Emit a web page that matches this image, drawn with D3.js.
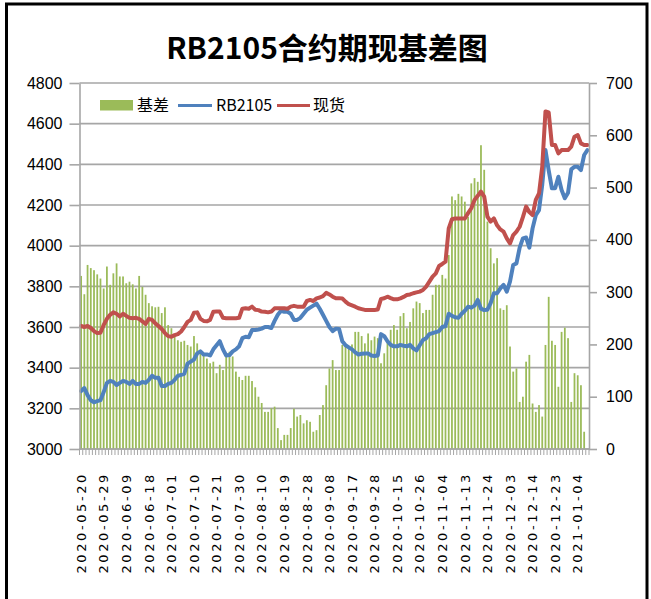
<!DOCTYPE html>
<html>
<head>
<meta charset="utf-8">
<script src="https://cdn.jsdelivr.net/npm/d3@7"></script>
<style>
  body { margin: 0; background: #fff; }
  svg { display: block; }
</style>
</head>
<body>
<div id="graph"></div>
<script>
// trading days shown on the x axis
const dates = [
  '2020-05-20','2020-05-21','2020-05-22','2020-05-25','2020-05-26','2020-05-27','2020-05-28','2020-05-29',
  '2020-06-01','2020-06-02','2020-06-03','2020-06-04','2020-06-05','2020-06-08','2020-06-09','2020-06-10',
  '2020-06-11','2020-06-12','2020-06-15','2020-06-16','2020-06-17','2020-06-18','2020-06-19','2020-06-22',
  '2020-06-23','2020-06-24','2020-06-29','2020-06-30','2020-07-01','2020-07-02','2020-07-03','2020-07-06',
  '2020-07-07','2020-07-08','2020-07-09','2020-07-10','2020-07-13','2020-07-14','2020-07-15','2020-07-16',
  '2020-07-17','2020-07-20','2020-07-21','2020-07-22','2020-07-23','2020-07-24','2020-07-27','2020-07-28',
  '2020-07-29','2020-07-30','2020-07-31','2020-08-03','2020-08-04','2020-08-05','2020-08-06','2020-08-07',
  '2020-08-10','2020-08-11','2020-08-12','2020-08-13','2020-08-14','2020-08-17','2020-08-18','2020-08-19',
  '2020-08-20','2020-08-21','2020-08-24','2020-08-25','2020-08-26','2020-08-27','2020-08-28','2020-08-31',
  '2020-09-01','2020-09-02','2020-09-03','2020-09-04','2020-09-07','2020-09-08','2020-09-09','2020-09-10',
  '2020-09-11','2020-09-14','2020-09-15','2020-09-16','2020-09-17','2020-09-18','2020-09-21','2020-09-22',
  '2020-09-23','2020-09-24','2020-09-25','2020-09-28','2020-09-29','2020-09-30','2020-10-09','2020-10-12',
  '2020-10-13','2020-10-14','2020-10-15','2020-10-16','2020-10-19','2020-10-20','2020-10-21','2020-10-22',
  '2020-10-23','2020-10-26','2020-10-27','2020-10-28','2020-10-29','2020-10-30','2020-11-02','2020-11-03',
  '2020-11-04','2020-11-05','2020-11-06','2020-11-09','2020-11-10','2020-11-11','2020-11-12','2020-11-13',
  '2020-11-16','2020-11-17','2020-11-18','2020-11-19','2020-11-20','2020-11-23','2020-11-24','2020-11-25',
  '2020-11-26','2020-11-27','2020-11-30','2020-12-01','2020-12-02','2020-12-03','2020-12-04','2020-12-07',
  '2020-12-08','2020-12-09','2020-12-10','2020-12-11','2020-12-14','2020-12-15','2020-12-16','2020-12-17',
  '2020-12-18','2020-12-21','2020-12-22','2020-12-23','2020-12-24','2020-12-25','2020-12-28','2020-12-29',
  '2020-12-30','2020-12-31','2021-01-04','2021-01-05','2021-01-06','2021-01-07'
]

// 基差 (right axis)
const basis = [
  331,296,352,346,342,334,326,307,349,314,
  336,355,330,330,317,320,315,307,331,310,
  295,279,273,271,272,260,271,237,231,215,
  208,205,207,199,196,216,202,189,180,173,
  164,167,145,161,151,177,186,177,148,138,
  132,140,140,130,118,100,88,71,71,78,
  81,40,17,27,27,40,77,62,65,49,
  55,52,33,36,65,84,122,154,170,151,
  151,199,199,193,200,224,224,216,202,221,
  208,215,212,164,183,205,228,237,228,254,
  260,231,243,269,282,279,260,266,266,295,
  314,314,333,326,371,483,476,488,483,473,
  444,508,518,511,581,534,435,384,355,365,
  269,266,275,196,148,154,90,100,167,180,
  87,71,84,62,199,291,207,199,119,224,
  232,212,90,145,141,122,33,null
]

// RB2105 futures (left axis)
const futures = [
  3285,3300,3265,3240,3230,3235,3240,3280,3325,3335,
  3330,3315,3325,3335,3330,3320,3335,3320,3320,3330,
  3325,3340,3360,3350,3350,3310,3310,3320,3325,3340,
  3360,3365,3370,3420,3430,3440,3470,3480,3465,3465,
  3460,3490,3510,3530,3490,3460,3462,3480,3490,3505,
  3545,3552,3550,3585,3585,3588,3592,3600,3600,3595,
  3630,3660,3680,3675,3675,3665,3635,3635,3645,3665,
  3685,3695,3705,3715,3690,3660,3630,3600,3580,3592,
  3590,3530,3510,3500,3490,3475,3465,3468,3470,3470,
  3460,3457,3460,3565,3555,3530,3512,3505,3505,3512,
  3508,3505,3512,3495,3485,3510,3536,3545,3565,3570,
  3575,3580,3600,3605,3665,3655,3648,3645,3665,3680,
  3700,3695,3705,3733,3690,3683,3685,3717,3766,3766,
  3790,3807,3774,3823,3905,3913,3990,4036,4040,3990,
  4085,4150,4175,4300,4470,4370,4282,4282,4339,4274,
  4233,4260,4375,4388,4388,4372,4446,4470
]

// 现货 spot (left axis)
const spot = [
  3605,3600,3605,3595,3580,3570,3572,3610,3640,3660,
  3672,3665,3652,3665,3655,3645,3643,3645,3640,3628,
  3615,3640,3635,3618,3605,3590,3570,3555,3552,3560,
  3565,3578,3600,3625,3635,3670,3672,3640,3630,3628,
  3635,3675,3676,3676,3645,3643,3643,3643,3643,3645,
  3690,3692,3690,3700,3685,3683,3676,3675,3672,3676,
  3692,3692,3692,3692,3690,3700,3704,3700,3700,3700,
  3728,3733,3728,3741,3745,3752,3768,3760,3749,3741,
  3742,3740,3725,3712,3706,3700,3692,3688,3684,3684,
  3684,3684,3686,3738,3741,3749,3742,3736,3736,3741,
  3748,3757,3760,3766,3770,3774,3782,3799,3823,3848,
  3864,3900,3910,3921,4085,4130,4134,4134,4134,4134,
  4160,4184,4225,4245,4266,4241,4143,4118,4134,4100,
  4080,4069,4036,4011,4052,4069,4093,4140,4192,4165,
  4150,4225,4257,4388,4660,4655,4495,4495,4454,4470,
  4470,4470,4487,4536,4544,4503,4495,4495
]

const leftTicks = [3000, 3200, 3400, 3600, 3800, 4000, 4200, 4400, 4600, 4800]
const rightTicks = [0, 100, 200, 300, 400, 500, 600, 700]
const labelEvery = 7

const width = 651, height = 599
const plot = { left: 79.5, right: 589, top: 83, bottom: 449 }
const green = '#9bbb59', blue = '#4f81bd', red = '#c0504d', grid = '#a6a6a6'

const svg = d3.select('#graph')
    .append('svg')
    .attr('width', width)
    .attr('height', height)

// outer frame
svg.append('rect')
    .attr('x', 6.5).attr('y', 4)
    .attr('width', 640.5).attr('height', 620)
    .attr('fill', 'none')
    .attr('stroke', '#000')
    .attr('stroke-width', 3)

svg.append('text')
    .attr('x', 327).attr('y', 59)
    .attr('text-anchor', 'middle')
    .style('font-family', '"Noto Sans CJK SC", sans-serif')
    .style('font-weight', 'bold')
    .style('font-size', '30px')
    .text('RB2105合约期现基差图')

const x = d3.scaleBand()
    .domain(dates)
    .range([plot.left, plot.right])
    .paddingInner(0.45)
    .paddingOuter(0.225)

const yL = d3.scaleLinear().domain([3000, 4800]).range([plot.bottom, plot.top])
const yR = d3.scaleLinear().domain([0, 700]).range([plot.bottom, plot.top])
const cx = (d) => x(d) + x.bandwidth() / 2

// gridlines on the left scale
svg.append('g')
    .selectAll('line')
    .data(leftTicks)
    .enter().append('line')
    .attr('x1', plot.left).attr('x2', plot.right)
    .attr('y1', (d) => yL(d)).attr('y2', (d) => yL(d))
    .attr('stroke', grid)
    .attr('stroke-width', 1.6)

// bars
svg.append('g')
    .selectAll('rect')
    .data(dates.map((d, i) => ({ date: d, v: basis[i] })).filter(d => d.v != null))
    .enter().append('rect')
    .attr('x', (d) => x(d.date))
    .attr('width', x.bandwidth())
    .attr('y', (d) => yR(d.v))
    .attr('height', (d) => yR(0) - yR(d.v))
    .attr('fill', green)

const line = d3.line()
    .x((d) => cx(d.date))
    .y((d) => yL(d.v))

const drawLine = (values, colour) => {
    svg.append('path')
        .datum(dates.map((d, i) => ({ date: d, v: values[i] })))
        .attr('d', line)
        .attr('fill', 'none')
        .attr('stroke', colour)
        .attr('stroke-width', 4)
        .attr('stroke-linejoin', 'round')
        .attr('stroke-linecap', 'round')
}
drawLine(futures, blue)
drawLine(spot, red)

// axes
const styleAxis = (g) => {
    g.select('.domain').attr('stroke', grid).attr('stroke-width', 1.6)
    g.selectAll('.tick line').attr('stroke', grid).attr('stroke-width', 1.6)
    g.selectAll('.tick text')
        .attr('fill', '#000')
        .style('font-family', '"Liberation Sans", Arial, sans-serif')
        .style('font-size', '16px')
}

svg.append('g')
    .attr('transform', `translate(${plot.left},0)`)
    .call(d3.axisLeft(yL).tickValues(leftTicks).tickFormat(d3.format('d'))
        .tickSize(10).tickPadding(7).tickSizeOuter(0))
    .call(styleAxis)

svg.append('g')
    .attr('transform', `translate(${plot.right},0)`)
    .call(d3.axisRight(yR).tickValues(rightTicks).tickFormat(d3.format('d'))
        .tickSize(8).tickPadding(9).tickSizeOuter(0))
    .call(styleAxis)

// x axis: baseline, a tick at every category boundary, a label every 7 days
const xg = svg.append('g')
xg.append('line')
    .attr('x1', plot.left).attr('x2', plot.right)
    .attr('y1', plot.bottom).attr('y2', plot.bottom)
    .attr('stroke', grid).attr('stroke-width', 1.6)

const bounds = dates.map((d) => cx(d) - x.step() / 2).concat([cx(dates[dates.length - 1]) + x.step() / 2])
xg.selectAll('line.tk')
    .data(bounds)
    .enter().append('line')
    .attr('class', 'tk')
    .attr('x1', (d) => d).attr('x2', (d) => d)
    .attr('y1', plot.bottom).attr('y2', plot.bottom + 6)
    .attr('stroke', grid).attr('stroke-width', 1)

xg.selectAll('text')
    .data(dates.filter((d, i) => i % labelEvery === 0))
    .enter().append('text')
    .attr('transform', (d) => `translate(${cx(d)},472) rotate(-90)`)
    .attr('text-anchor', 'end')
    .attr('dy', '0.36em')
    .style('font-family', '"DejaVu Sans", sans-serif')
    .style('font-size', '13px')
    .style('letter-spacing', '2.6px')
    .text((d) => d)

// legend
const legend = svg.append('g')
    .style('font-family', '"Noto Sans CJK SC", sans-serif')
    .style('font-size', '16px')
legend.append('rect').attr('x', 100).attr('y', 100).attr('width', 33).attr('height', 10.5).attr('fill', green)
legend.append('text').attr('x', 137).attr('y', 111).text('基差')
legend.append('line').attr('x1', 178).attr('x2', 212).attr('y1', 105.5).attr('y2', 105.5)
    .attr('stroke', blue).attr('stroke-width', 3)
legend.append('text').attr('x', 216).attr('y', 111).text('RB2105')
legend.append('line').attr('x1', 277).attr('x2', 310).attr('y1', 105.5).attr('y2', 105.5)
    .attr('stroke', red).attr('stroke-width', 3)
legend.append('text').attr('x', 313).attr('y', 111).text('现货')
</script>
</body>
</html>
